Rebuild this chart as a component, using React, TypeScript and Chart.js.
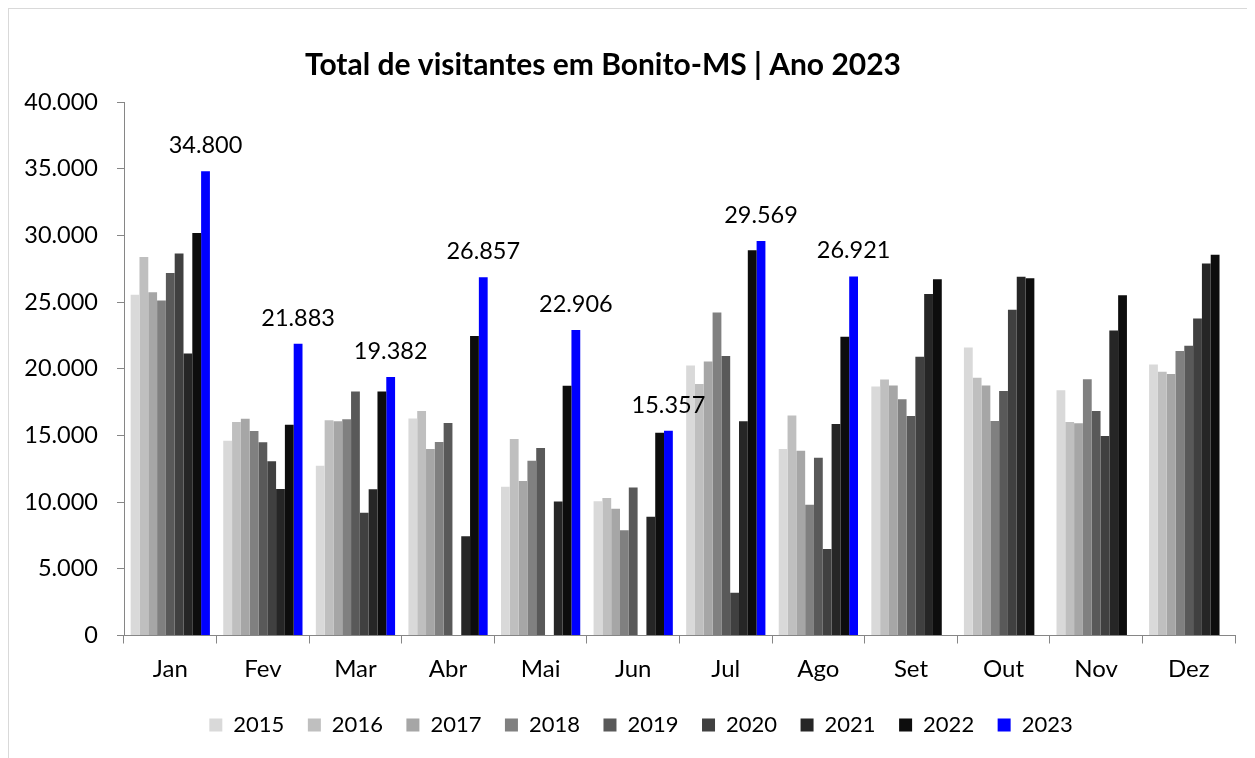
import React, { useEffect, useRef } from 'react';
import { Chart, registerables } from 'chart.js';
Chart.register(...registerables);

const months = ['Jan', 'Fev', 'Mar', 'Abr', 'Mai', 'Jun', 'Jul', 'Ago', 'Set', 'Out', 'Nov', 'Dez'];
const years = ['2015', '2016', '2017', '2018', '2019', '2020', '2021', '2022', '2023'];

const v2015 = [25550, 14600, 12720, 16270, 11150, 10070, 20250, 13980, 18670, 21600, 18390, 20320];
const v2016 = [28370, 16000, 16140, 16840, 14740, 10300, 18850, 16490, 19200, 19320, 16010, 19770];
const v2017 = [25730, 16250, 16060, 13990, 11580, 9500, 20550, 13860, 18750, 18750, 15910, 19600];
const v2018 = [25110, 15330, 16220, 14510, 13110, 7890, 24210, 9800, 17720, 16090, 19220, 21330];
const v2019 = [27180, 14490, 18290, 15940, 14060, 11100, 20950, 13330, 16460, 18340, 16840, 21730];
const v2020 = [28640, 13070, 9210, 0, 0, 0, 3210, 6490, 20900, 24430, 14960, 23760];
const v2021 = [21150, 10990, 10960, 7440, 10050, 8900, 16060, 15860, 25610, 26890, 22860, 27890];
const v2022 = [30170, 15810, 18290, 22450, 18720, 15210, 28890, 22400, 26710, 26790, 25510, 28540];
const v2023 = [34800, 21883, 19382, 26857, 22906, 15357, 29569, 26921, null, null, null, null];

const colors = ['#D9D9D9', '#BFBFBF', '#A6A6A6', '#808080', '#595959', '#404040', '#262626', '#0D0D0D', '#0000FF'];

const yMin = 0;
const yMax = 40000;
const yStep = 5000;

const titleText = 'Total de visitantes em Bonito-MS | Ano 2023';

const fmt = (v: number) => String(Math.round(v)).replace(/\B(?=(\d{3})+(?!\d))/g, '.');

const FONT = 'Lato';
const AXIS = '#868686';

const titlePlugin = {
  id: 'customTitle',
  afterDraw(chart: any) {
    const ctx = chart.ctx;
    ctx.save();
    ctx.font = `bold 30px ${FONT}`;
    ctx.fillStyle = '#000';
    ctx.textAlign = 'center';
    ctx.textBaseline = 'middle';
    ctx.fillText(titleText, 594, 56);
    ctx.restore();
  },
};

const labelPlugin = {
  id: 'valueLabels',
  afterDatasetsDraw(chart: any) {
    const ctx = chart.ctx;
    const meta = chart.getDatasetMeta(8);
    ctx.save();
    ctx.font = `23.5px ${FONT}`;
    ctx.fillStyle = '#000';
    ctx.textAlign = 'center';
    ctx.textBaseline = 'alphabetic';
    meta.data.forEach((el: any, i: number) => {
      const v = v2023[i];
      if (v == null) return;
      ctx.fillText(fmt(v), el.x, el.y - 18);
    });
    ctx.restore();
  },
};

const legendShift = {
  id: 'legendShift',
  afterLayout(chart: any) {
    const l = chart.legend;
    if (l) {
      l.left += 19;
      l.right += 19;
    }
  },
};

export default function App() {
  const ref = useRef<HTMLCanvasElement>(null);
  useEffect(() => {
    document.documentElement.style.overflow = 'hidden';
    Chart.defaults.font.family = FONT;
    const series = [v2015, v2016, v2017, v2018, v2019, v2020, v2021, v2022, v2023];
    const chart = new Chart(ref.current!, {
      type: 'bar',
      data: {
        labels: months,
        datasets: years.map((y, i) => ({
          label: y,
          data: series[i] as any,
          backgroundColor: colors[i],
          borderWidth: 0,
          categoryPercentage: 0.856,
          barPercentage: 1,
        })),
      },
      options: {
        responsive: false,
        animation: false,
        layout: { padding: { top: 93, left: 0, right: 20, bottom: 23 } },
        plugins: {
          legend: {
            position: 'bottom',
            labels: { boxWidth: 13, boxHeight: 13, padding: 23.5, color: '#000', font: { size: 22, family: FONT } },
          },
          title: { display: false },
          tooltip: { enabled: false },
        },
        scales: {
          x: {
            grid: { drawOnChartArea: false, drawTicks: true, tickLength: 8, color: AXIS, offset: true },
            border: { color: AXIS },
            ticks: { color: '#000', font: { size: 24, family: FONT }, padding: 11 },
            afterFit: (s: any) => { s.height = 55; },
          },
          y: {
            min: yMin,
            max: yMax,
            ticks: { stepSize: yStep, color: '#000', font: { size: 23.5, family: FONT }, padding: 19, callback: (v: any) => fmt(Number(v)) },
            grid: { drawOnChartArea: false, drawTicks: true, tickLength: 7, color: AXIS },
            border: { color: AXIS },
            afterFit: (s: any) => { s.width = 115; },
          },
        },
      } as any,
      plugins: [titlePlugin, labelPlugin, legendShift],
    });
    return () => chart.destroy();
  }, []);
  return (
    <div style={{ width: 1248, height: 762, border: '1px solid #D9D9D9', boxSizing: 'border-box' }}>
      <canvas ref={ref} width={1246} height={760} style={{ display: 'block' }} />
    </div>
  );
}
